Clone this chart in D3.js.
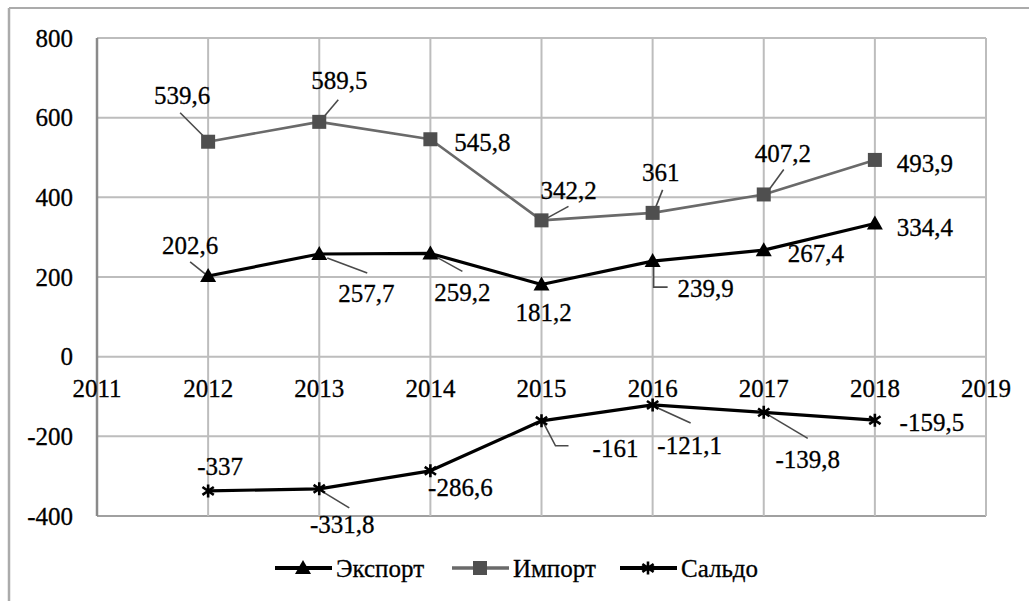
<!DOCTYPE html>
<html><head><meta charset="utf-8">
<script src="https://cdn.jsdelivr.net/npm/d3@7"></script>
<style>body{margin:0;background:#fff}svg{display:block}</style>
</head><body>
<svg id="c" width="1029" height="601"></svg>
<script>
const years = [2012, 2013, 2014, 2015, 2016, 2017, 2018];
const exportVals = [202.6, 257.7, 259.2, 181.2, 239.9, 267.4, 334.4];
const importVals = [539.6, 589.5, 545.8, 342.2, 361, 407.2, 493.9];
const saldoVals = [-337, -331.8, -286.6, -161, -121.1, -139.8, -159.5];
const xTicks = [2011, 2012, 2013, 2014, 2015, 2016, 2017, 2018, 2019];
const yTicks = [-400, -200, 0, 200, 400, 600, 800];
const seriesNames = ["Экспорт", "Импорт", "Сальдо"];

// label placement (pixel offsets from the point), kept separate from data
const labelOff = {
  exp: [[-18,-31],[47,39],[32,39],[2,28],[53,27],[52,3],[50,4]],
  imp: [[-26,-46],[20,-42],[52,3],[27,-30],[8,-41],[19,-41],[50,3]],
  sal: [[12,-25],[23,35],[30,16],[74,27],[37,40],[44,47],[57,2]]
};
const leaders = {
  exp: [[[-18,-14],[-3,-2]], [[8,4],[48,19]], [[3,2],[32,18]], null, [[1,2],[1,26],[15,26]], null, null],
  imp: [[[-28,-29],[-3,-4]], [[19,-22],[3,-3]], null, [[27,-14],[5,-2]], [[10,-23],[2,-3]], [[20,-25],[4,-3]], null],
  sal: [null, [[2,2],[30,19]], null, [[2,2],[14,25],[27,25]], [[3,2],[38,18]], [[2,1],[44,26]], null]
};

const fmt = v => String(v).replace(".", ",");
const svg = d3.select("#c");
const FONT = '"Liberation Serif", "Times New Roman", Tinos';

const x = d3.scaleLinear().domain([2011, 2019]).range([97, 986]);
const y = d3.scaleLinear().domain([-400, 800]).range([516, 38]);

// outer frame
svg.append("line").attr("x1", 9).attr("x2", 1029).attr("y1", 8).attr("y2", 8).attr("stroke", "#ababab").attr("stroke-width", 2);
svg.append("line").attr("x1", 9).attr("x2", 9).attr("y1", 8).attr("y2", 601).attr("stroke", "#ababab").attr("stroke-width", 2.5);

// grid
const g = svg.append("g");
g.selectAll(".hg").data(yTicks).join("line")
  .attr("x1", x(2011)).attr("x2", x(2019)).attr("y1", d => y(d)).attr("y2", d => y(d))
  .attr("stroke", d => d === -400 ? "#a0a0a0" : "#bdbdbd").attr("stroke-width", 2);
g.selectAll(".vg").data(xTicks.slice(1)).join("line")
  .attr("x1", d => x(d)).attr("x2", d => x(d)).attr("y1", y(800)).attr("y2", y(-400))
  .attr("stroke", "#bdbdbd").attr("stroke-width", 2);
g.append("line").attr("x1", x(2011)).attr("x2", x(2011)).attr("y1", y(800)).attr("y2", y(-400))
  .attr("stroke", "#8a8a8a").attr("stroke-width", 2.5);

function styleText(sel) {
  return sel.style("font-family", FONT).style("font-size", "25px")
    .attr("fill", "#000").attr("stroke", "#000").attr("stroke-width", 0.3);
}

// y tick labels
styleText(svg.selectAll(".yt").data(yTicks).join("text")
  .attr("x", 73).attr("y", d => y(d)).attr("dy", "0.35em").attr("text-anchor", "end")
  .text(d => d));
// x tick labels
styleText(svg.selectAll(".xt").data(xTicks).join("text")
  .attr("x", d => x(d)).attr("y", y(0) + 40).attr("text-anchor", "middle")
  .text(d => d));

const line = d3.line().x((d, i) => x(years[i])).y(d => y(d));

const series = [
  {key: "exp", vals: exportVals, color: "#000", width: 3.2, marker: "tri"},
  {key: "imp", vals: importVals, color: "#6a6a6a", width: 2.6, marker: "sq"},
  {key: "sal", vals: saldoVals, color: "#000", width: 3.2, marker: "star"}
];

function drawMarker(sel, type, cx, cy) {
  if (type === "tri") {
    sel.append("path").attr("d", `M${cx},${cy-8}L${cx+8},${cy+6}L${cx-8},${cy+6}Z`).attr("fill", "#000");
  } else if (type === "sq") {
    sel.append("rect").attr("x", cx-7).attr("y", cy-7).attr("width", 14).attr("height", 14).attr("fill", "#4f4f4f");
  } else {
    const r = 6.5, dd = r * 0.87;
    sel.append("path").attr("d", `M${cx},${cy-r}L${cx},${cy+r}M${cx-dd},${cy-r*0.6}L${cx+dd},${cy+r*0.6}M${cx-dd},${cy+r*0.6}L${cx+dd},${cy-r*0.6}`)
      .attr("stroke", "#000").attr("stroke-width", 2.6).attr("fill", "none");
  }
}

// leaders first (under markers)
series.forEach(s => {
  s.vals.forEach((v, i) => {
    const L = leaders[s.key][i];
    if (!L) return;
    const px = x(years[i]), py = y(v);
    svg.append("polyline").attr("points", L.map(p => `${px+p[0]},${py+p[1]}`).join(" "))
      .attr("fill", "none").attr("stroke", "#4a4a4a").attr("stroke-width", 1.6);
  });
});

series.forEach(s => {
  svg.append("path").datum(s.vals).attr("d", line).attr("fill", "none")
    .attr("stroke", s.color).attr("stroke-width", s.width).attr("stroke-linejoin", "round");
  const mg = svg.append("g");
  s.vals.forEach((v, i) => drawMarker(mg, s.marker, x(years[i]), y(v)));
  styleText(svg.selectAll(null).data(s.vals).join("text")
    .attr("x", (d, i) => x(years[i]) + labelOff[s.key][i][0])
    .attr("y", (d, i) => y(d) + labelOff[s.key][i][1])
    .attr("dy", "0.35em").attr("text-anchor", "middle")
    .text(d => fmt(d)));
});

// legend
const legX = [275, 452, 620];
const lg = svg.append("g");
series.forEach((s, i) => {
  const lx = legX[i], ly = 568;
  lg.append("line").attr("x1", lx).attr("x2", lx + 57).attr("y1", ly).attr("y2", ly)
    .attr("stroke", s.color).attr("stroke-width", s.width + 1);
  drawMarker(lg, s.marker, lx + 28, ly);
  styleText(lg.append("text").attr("x", lx + 61).attr("y", ly).attr("dy", "0.35em")
    .text(seriesNames[i]));
});
</script>
</body></html>
